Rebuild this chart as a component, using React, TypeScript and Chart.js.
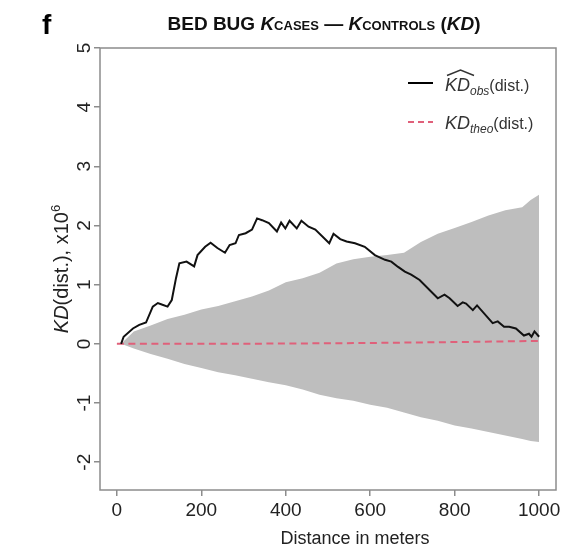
import React, { useEffect, useRef } from "react";
import { Chart, registerables } from "chart.js";

Chart.register(...registerables);

const xTicks = [0, 200, 400, 600, 800, 1000];
const yTicks = [-2, -1, 0, 1, 2, 3, 4, 5];

const envDist = [0, 10, 40, 80, 120, 160, 200, 240, 280, 320, 360, 400, 440, 480, 520, 560, 600, 640, 680, 720, 760, 800, 840, 880, 920, 960, 980, 1000];
const envUpper = [0, 0.0, 0.21, 0.31, 0.42, 0.49, 0.58, 0.64, 0.72, 0.8, 0.9, 1.04, 1.11, 1.2, 1.36, 1.43, 1.47, 1.5, 1.54, 1.72, 1.86, 1.96, 2.06, 2.17, 2.26, 2.31, 2.43, 2.52];
const envLower = [0, 0.0, -0.08, -0.17, -0.25, -0.34, -0.41, -0.48, -0.53, -0.59, -0.65, -0.7, -0.77, -0.86, -0.92, -0.96, -1.03, -1.08, -1.16, -1.24, -1.3, -1.38, -1.43, -1.49, -1.55, -1.61, -1.64, -1.66];

const obsDist = [10, 16, 38, 53, 69, 85, 97, 108, 120, 130, 140, 148, 165, 183, 191, 209, 222, 238, 256, 267, 281, 289, 305, 320, 332, 344, 360, 379, 389, 399, 409, 426, 437, 454, 470, 503, 513, 529, 544, 564, 587, 611, 635, 650, 666, 682, 697, 717, 760, 776, 788, 807, 819, 827, 843, 853, 890, 902, 917, 929, 945, 964, 976, 982, 989, 1000];
const obsValue = [0, 0.12, 0.26, 0.32, 0.36, 0.63, 0.69, 0.66, 0.63, 0.74, 1.11, 1.36, 1.39, 1.31, 1.5, 1.64, 1.71, 1.62, 1.54, 1.67, 1.7, 1.84, 1.87, 1.93, 2.12, 2.09, 2.04, 1.9, 2.05, 1.95, 2.08, 1.95, 2.08, 1.98, 1.93, 1.7, 1.86, 1.77, 1.73, 1.7, 1.64, 1.5, 1.42, 1.39, 1.3, 1.22, 1.17, 1.08, 0.77, 0.83, 0.77, 0.64, 0.7, 0.68, 0.57, 0.65, 0.35, 0.38, 0.29, 0.29, 0.26, 0.14, 0.17, 0.12, 0.21, 0.12];

const theoDist = [0, 200, 400, 600, 800, 1000];
const theoValue = [0, 0, 0.005, 0.015, 0.03, 0.05];

const FAMILY = '"Liberation Sans", Arial, Helvetica, sans-serif';
const BOX = "#8c8c8c";
const RED = "#e0607a";

const pts = (xs: number[], ys: number[]) => xs.map((x, i) => ({ x, y: ys[i] }));

function drawRuns(ctx: CanvasRenderingContext2D, runs: { t: string; f: string; dy?: number }[], x: number, y: number) {
  let cx = x;
  for (const r of runs) {
    ctx.font = r.f;
    ctx.fillText(r.t, cx, y + (r.dy || 0));
    cx += ctx.measureText(r.t).width;
  }
  return cx;
}
function runsWidth(ctx: CanvasRenderingContext2D, runs: { t: string; f: string }[]) {
  let w = 0;
  for (const r of runs) {
    ctx.font = r.f;
    w += ctx.measureText(r.t).width;
  }
  return w;
}

const decor = {
  id: "decor",
  afterDraw(chart: any) {
    const { ctx, chartArea } = chart;
    const { left, right, top, bottom } = chartArea;
    ctx.save();
    // box
    ctx.strokeStyle = BOX;
    ctx.lineWidth = 1.5;
    ctx.strokeRect(left, top, right - left, bottom - top);

    // y tick labels (rotated like R)
    const ys = chart.scales.y;
    ctx.fillStyle = "#222";
    ctx.font = `19px ${FAMILY}`;
    ctx.textAlign = "center";
    ctx.textBaseline = "middle";
    ys.ticks.forEach((t: any) => {
      const py = ys.getPixelForValue(t.value);
      ctx.save();
      ctx.translate(85, py);
      ctx.rotate(-Math.PI / 2);
      ctx.fillText(String(t.value), 0, 0);
      ctx.restore();
    });

    ctx.textAlign = "left";
    ctx.textBaseline = "alphabetic";

    // x axis title
    ctx.fillStyle = "#222";
    ctx.font = `18px ${FAMILY}`;
    ctx.textAlign = "center";
    ctx.fillText("Distance in meters", 355, 544);
    ctx.textAlign = "left";

    // y axis title
    const yRuns = [
      { t: "KD", f: `italic 20px ${FAMILY}` },
      { t: "(dist.), x10", f: `20px ${FAMILY}` },
      { t: "6", f: `13px ${FAMILY}`, dy: -8 },
    ];
    ctx.save();
    ctx.translate(68, (top + bottom) / 2);
    ctx.rotate(-Math.PI / 2);
    const yw = runsWidth(ctx, yRuns);
    drawRuns(ctx, yRuns, -yw / 2, 0);
    ctx.restore();

    // title
    ctx.fillStyle = "#111";
    const tRuns = [
      { t: "BED BUG ", f: `bold 19px ${FAMILY}` },
      { t: "K", f: `italic bold 19px ${FAMILY}` },
      { t: "CASES", f: `bold 13px ${FAMILY}` },
      { t: " \u2014 ", f: `bold 19px ${FAMILY}` },
      { t: "K", f: `italic bold 19px ${FAMILY}` },
      { t: "CONTROLS", f: `bold 13px ${FAMILY}` },
      { t: " (", f: `bold 19px ${FAMILY}` },
      { t: "KD", f: `italic bold 19px ${FAMILY}` },
      { t: ")", f: `bold 19px ${FAMILY}` },
    ];
    const tw = runsWidth(ctx, tRuns);
    drawRuns(ctx, tRuns, 324 - tw / 2, 30);

    // panel letter
    ctx.fillStyle = "#000";
    ctx.font = `bold 28px ${FAMILY}`;
    ctx.fillText("f", 42, 34);

    // legend
    ctx.strokeStyle = "#000";
    ctx.lineWidth = 2;
    ctx.setLineDash([]);
    ctx.beginPath();
    ctx.moveTo(408, 83);
    ctx.lineTo(433, 83);
    ctx.stroke();
    ctx.strokeStyle = RED;
    ctx.setLineDash([6, 4]);
    ctx.beginPath();
    ctx.moveTo(408, 122);
    ctx.lineTo(433, 122);
    ctx.stroke();
    ctx.setLineDash([]);

    ctx.fillStyle = "#333";
    ctx.font = `italic 18px ${FAMILY}`;
    const kdw = ctx.measureText("KD").width;
    drawRuns(
      ctx,
      [
        { t: "KD", f: `italic 18px ${FAMILY}` },
        { t: "obs", f: `italic 12px ${FAMILY}`, dy: 4 },
        { t: "(dist.)", f: `16px ${FAMILY}` },
      ],
      445,
      91
    );
    // hat over KD
    ctx.strokeStyle = "#333";
    ctx.lineWidth = 1.4;
    ctx.beginPath();
    ctx.moveTo(447, 75.5);
    ctx.lineTo(447 + kdw / 2 + 1, 70);
    ctx.lineTo(447 + kdw + 2, 75.5);
    ctx.stroke();

    drawRuns(
      ctx,
      [
        { t: "KD", f: `italic 18px ${FAMILY}` },
        { t: "theo", f: `italic 12px ${FAMILY}`, dy: 4 },
        { t: "(dist.)", f: `16px ${FAMILY}` },
      ],
      445,
      129
    );
    ctx.restore();
  },
};

export default function App() {
  const ref = useRef<HTMLCanvasElement | null>(null);
  useEffect(() => {
    if (!ref.current) return;
    const chart = new Chart(ref.current, {
      type: "line",
      data: {
        datasets: [
          {
            label: "obs",
            data: pts(obsDist, obsValue),
            borderColor: "#111",
            borderWidth: 2,
            pointRadius: 0,
            fill: false,
            tension: 0,
          },
          {
            label: "theo",
            data: pts(theoDist, theoValue),
            borderColor: RED,
            borderWidth: 2,
            borderDash: [7, 4.5],
            pointRadius: 0,
            fill: false,
            tension: 0,
          },
          {
            label: "upper",
            data: pts(envDist, envUpper),
            borderWidth: 0,
            borderColor: "rgba(0,0,0,0)",
            backgroundColor: "#bebebe",
            pointRadius: 0,
            fill: "+1",
            tension: 0,
          },
          {
            label: "lower",
            data: pts(envDist, envLower),
            borderWidth: 0,
            borderColor: "rgba(0,0,0,0)",
            backgroundColor: "#bebebe",
            pointRadius: 0,
            fill: false,
            tension: 0,
          },
        ],
      },
      options: {
        animation: false,
        responsive: false,
        layout: { padding: { top: 48, right: 10, left: 0, bottom: 0 } },
        plugins: {
          legend: { display: false },
          tooltip: { enabled: false },
          title: { display: false },
        },
        scales: {
          x: {
            type: "linear",
            min: -40,
            max: 1040,
            afterBuildTicks: (s: any) => {
              s.ticks = xTicks.map((v) => ({ value: v }));
            },
            afterFit: (s: any) => {
              s.height = 58;
            },
            grid: {
              display: true,
              drawOnChartArea: false,
              drawTicks: true,
              tickLength: 6,
              color: BOX,
              lineWidth: 1.5,
            },
            border: { display: false },
            ticks: {
              color: "#222",
              font: { size: 19, family: FAMILY },
              padding: 3,
              maxRotation: 0,
              autoSkip: false,
              callback: (v: any) => String(v),
            },
          },
          y: {
            type: "linear",
            min: -2.47,
            max: 5,
            afterBuildTicks: (s: any) => {
              s.ticks = yTicks.map((v) => ({ value: v }));
            },
            afterFit: (s: any) => {
              s.width = 100;
            },
            grid: {
              display: true,
              drawOnChartArea: false,
              drawTicks: true,
              tickLength: 6,
              color: BOX,
              lineWidth: 1.5,
            },
            border: { display: false },
            ticks: { display: false },
          },
        },
      },
      plugins: [decor],
    });
    return () => chart.destroy();
  }, []);
  return (
    <div style={{ position: "absolute", left: 0, top: 0, width: 566, height: 548, background: "#fff" }}>
      <canvas ref={ref} width={566} height={548} style={{ width: 566, height: 548 }} />
    </div>
  );
}
